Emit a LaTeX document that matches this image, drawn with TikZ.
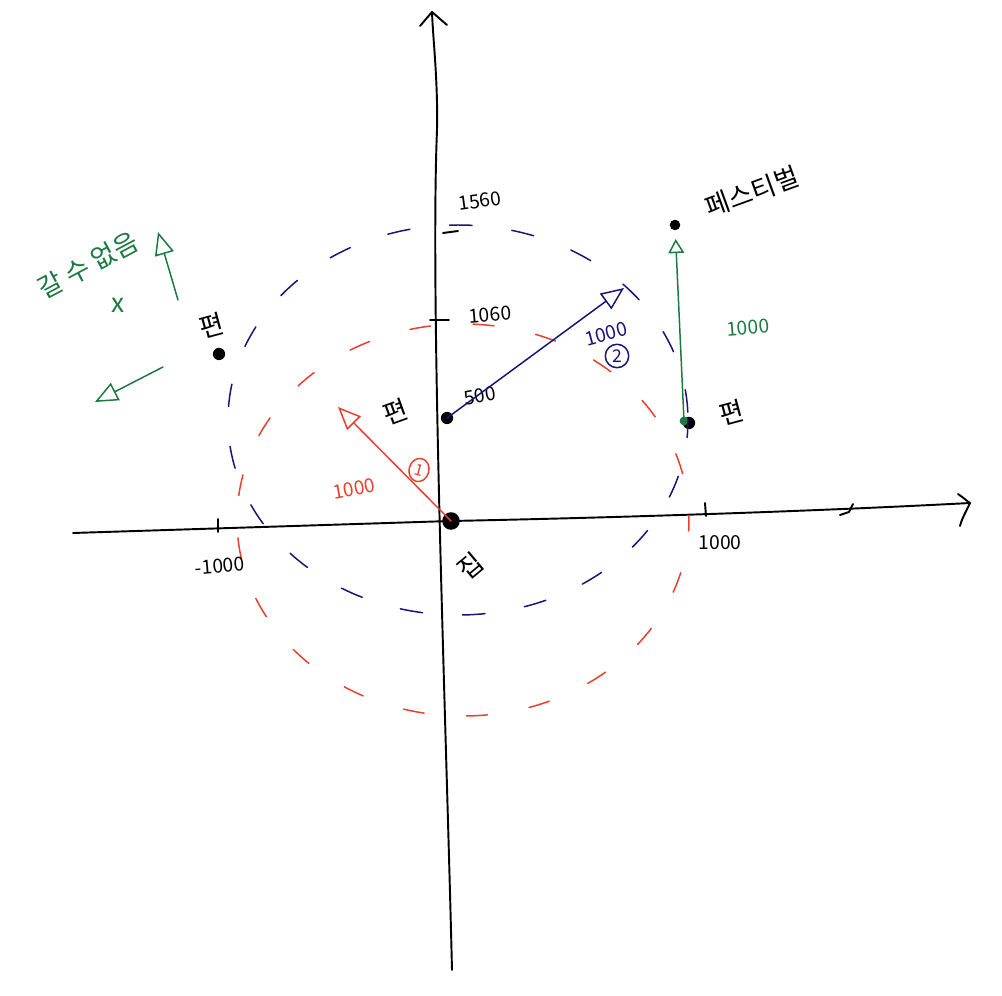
\documentclass[tikz,border=0pt]{standalone}
\usepackage{fontspec}
\setmainfont{Noto Sans CJK KR}
\usetikzlibrary{arrows.meta,shapes.geometric}
\definecolor{hred}{RGB}{232,64,44}
\definecolor{hblue}{RGB}{25,20,120}
\definecolor{hgreen}{RGB}{28,122,64}
\begin{document}
\begin{tikzpicture}[x=0.02cm,y=-0.02cm,
  axis/.style={line width=1.1pt,black,line cap=round,line join=round},
  reddash/.style={hred,line width=0.85pt,line cap=round,dash pattern=on 0.42cm off 0.85cm},
  bluedash/.style={hblue,line width=0.85pt,line cap=round,dash pattern=on 0.45cm off 0.8cm},
  dot/.style={circle,fill=black,inner sep=0pt,minimum size=7pt},
  hand/.style={line width=0.85pt,line cap=round,line join=round},
  openhead/.style={-{Triangle[open,length=13pt,width=11pt,line width=0.85pt]}},
  num/.style={font=\fontsize{11}{11}\selectfont,inner sep=0pt},
  kor/.style={font=\fontsize{15}{15}\selectfont,inner sep=0pt}]
\useasboundingbox (0,0) rectangle (1002,996);

% points
\node[dot,minimum size=10pt] (home) at (451,521) {};
\node[dot] (p1) at (447,418) {};
\node[dot] (p2) at (219,354) {};
\node[dot] (p3) at (689,423) {};
\node[dot,minimum size=6pt] (fest) at (675,225) {};
\node[circle,fill=hgreen,inner sep=0pt,minimum size=5pt] (g3) at (684,421) {};

% axes
\coordinate (ybot) at (452,970);
\coordinate (ytop) at (432,12);
\coordinate (xl) at (73,533);
\coordinate (xr) at (970,503);
\draw[axis] (ybot) .. controls (446,720) and (430,300) .. (437,130) .. controls (438,80) and (433,40) .. (ytop);
\draw[axis] (420,26) -- (ytop) -- (447,25);
\draw[axis] (xl) -- (home.center) .. controls (600,518) and (800,512) .. (xr);
\draw[axis] (958,494) .. controls (964,498) and (968,502) .. (xr) .. controls (966,512) and (962,518) .. (960,526);
\draw[axis] (840,515) -- (849,512) -- (853,504);

% ticks
\draw[axis] (443,233) -- (458,231);
\draw[axis] (430,320) -- (449,320);
\draw[axis] (218,519) -- (218,532);
\draw[axis] (705,503) -- (706,516);

% dashed circles
\draw[reddash,dash phase=0.2cm] (463,520) ellipse [x radius=226, y radius=196];
\draw[bluedash,dash phase=0.1cm] (458,420) ellipse [x radius=230, y radius=195];

% axis labels
\node[num,rotate=8] (l1560) at (480,201) {1560};
\node[num,rotate=5] (l1060) at (490,315) {1060};
\node[num,rotate=10] (l500) at (480,396) {500};
\node[num,rotate=5] (lm1000) at (220,566) {-1000};
\node[num] (l1000) at (720,543) {1000};

% red arrow 1
\coordinate (rtip) at (338,407);
\draw[hand,hred,openhead] (home.center) -- (rtip);
\node[num,hred,rotate=10] (r1000) at (354,489) {1000};
\node[draw=hred,ellipse,hand,rotate=-15,inner sep=1.5pt,font=\fontsize{9}{9}\selectfont,hred] (c1) at (419,470) {1};

% blue arrow 2
\coordinate (btip) at (624,288);
\draw[hand,hblue,openhead] (p1.center) -- (btip);
\node[num,hblue,rotate=15] (b1000) at (606,334) {1000};
\node[draw=hblue,circle,hand,inner sep=1.5pt,font=\fontsize{10}{10}\selectfont,hblue] (c2) at (617,356) {2};

% green arrow
\draw[hand,hgreen,-{Triangle[open,length=8pt,width=9pt,line width=0.85pt]},shorten >=8pt] (g3.center) -- (fest.center);
\node[num,hgreen,rotate=5] (g1000) at (748,328) {1000};

% labels
\node[kor,rotate=20] (lfest) at (752,192) {페스티벌};
\node[kor,rotate=20] (lp1) at (395,412) {편};
\node[kor,rotate=15] (lp2) at (212,326) {편};
\node[kor,rotate=15] (lp3) at (732,413) {편};
\node[kor,rotate=40] (lhome) at (470,566) {집};

% left annotation
\node[kor,hgreen,rotate=28] (cant) at (88,265) {갈 수 없음};
\node[kor,hgreen] (xmark) at (118,305) {x};
\coordinate (ga1t) at (178,300);
\coordinate (ga1h) at (158,232);
\draw[hand,hgreen,openhead] (ga1t) -- (ga1h);
\coordinate (ga2t) at (163,367);
\coordinate (ga2h) at (95,402);
\draw[hand,hgreen,openhead] (ga2t) -- (ga2h);
\end{tikzpicture}
\end{document}
